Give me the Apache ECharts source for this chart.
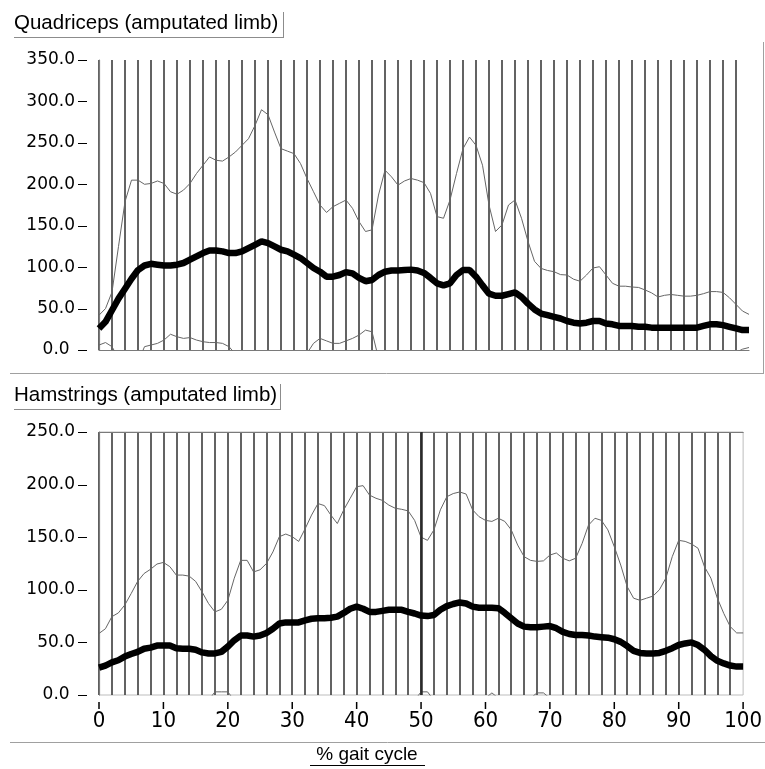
<!DOCTYPE html>
<html>
<head>
<meta charset="utf-8">
<script src="https://cdn.jsdelivr.net/npm/echarts@6/dist/echarts.min.js"></script>
<style>
html,body{margin:0;padding:0;background:#fff;}
#chart{width:765px;height:769px;}
</style>
</head>
<body>
<div id="chart"></div>
<script>
// ---- data ----
const gaitPct = [0,1,2,3,4,5,6,7,8,9,10,11,12,13,14,15,16,17,18,19,20,21,22,23,24,25,26,27,28,29,30,31,32,33,34,35,36,37,38,39,40,41,42,43,44,45,46,47,48,49,50,51,52,53,54,55,56,57,58,59,60,61,62,63,64,65,66,67,68,69,70,71,72,73,74,75,76,77,78,79,80,81,82,83,84,85,86,87,88,89,90,91,92,93,94,95,96,97,98,99,100];
const xTickLabels = [0,10,20,30,40,50,60,70,80,90,100];
const quadYTicks = [0,50,100,150,200,250,300,350];
const hamYTicks = [0,50,100,150,200,250];

const quadTitle = "Quadriceps (amputated limb)";
const hamTitle = "Hamstrings (amputated limb)";
const xTitle = "% gait cycle";

const quadMean = [26,34,48,62,74,86,96.5,102,104,103,
  102,102,103,105,109,113,117,120,120,119,
  117,117,119,123,127,131,129,125,121,119,
  115,111,105,99,94.5,88.5,88.5,90.5,94,92.5,
  87,83,84.5,90.5,94.5,96,96,96.5,97,96,
  93,87,80.5,78,80.5,90.5,96.5,96.5,88.5,78,
  68,65.5,65.5,67.5,69.5,64,56,49,44,42,
  40,38,35,33,32,33,35,35,32,31,
  29,29,29,28,28,27,27,27,27,27,
  27,27,27,29,31,31,30,28,26,24,24];
const quadUpper = [42,50,70,125,179,205,205,200,201,204,
  201,191,188,193,201,213,223,233,229,228,
  233,239,247,255,271,290,284,263,243,240,
  237,225,207,191,175,166,173,177,181,171,
  155,143,145,187,217,209,199,204,207,205,
  202,189,161,159,181,213,243,257,247,223,
  175,143,151,175,181,159,131,107,98.5,96,
  94.5,91,90.5,85.5,83,90.5,99,100.5,90.5,80.5,
  77,77,76,75.5,72.5,69,64,66,67,66,
  65,65,66,68,70.5,70.5,69.5,63,55,47,43];
const quadLower = [6,9,4,-10,-25,-30,-15,4,6,8,
  12,19,16,14,15,12,10,9,9,8,
  4,-5,-15,-25,-30,-35,-30,-20,-15,-12,
  -10,-8,-4,8,14,11,8,8,11,14,
  18,24,22,-10,-30,-20,-10,-12,-14,-15,
  -18,-15,-3,-5,-20,-30,-50,-60,-70,-65,
  -40,-10,-20,-40,-40,-30,-20,-10,-10,-12,
  -15,-15,-20,-20,-18,-25,-30,-30,-25,-20,
  -20,-20,-20,-20,-18,-15,-10,-12,-13,-12,
  -11,-11,-12,-10,-8,-8,-10,-7,-3,1,3];

const hamMean = [26,28,31,33,36.5,39,41,44,45,47,
  47,47,44.5,44,44,43,40.5,39.5,39.5,41,
  46,52,56.5,56.5,55.5,56.5,59,63,68,69,
  69,69,71,72.5,73,73,73.5,74.5,78,82,
  84,82,79,79,80,81,81,81,79,77.5,
  75.5,75,76,81,84.5,86.5,88,87,84,83,
  83,83,82.5,78,73,68,65,64.5,64.5,65,
  65.5,63.5,60,58,57,57,56.5,55.5,55,54.5,
  53,50.5,46.5,42,40,39.5,39.5,40,42,44.5,
  47.5,49,50,47.5,43,37,32.5,30,28,27,27];
const hamUpper = [58.5,63,74.5,78,85.5,96.5,108,115.5,119.5,124.5,
  126,122,114,114,113,108,98,87,79,81.5,
  90,111,128,128,117,119,125,136,150.5,153,
  150.5,146,158,171,182,180,171,163,176,187,
  198,199,190,187,185,180.5,177.5,176.5,175,166,
  150,147,157,176,188.5,191.5,193,191,176,169.5,
  166,165,168,165,157,142.5,131.5,128,127,127.5,
  133,135,130,127.5,130,144,161.5,168,166,157,
  141,123.5,103,92,90,92,94,100,111,131.5,
  147,146,143.5,139.5,122,111,92,77.5,65,59,59];
const hamLower = [-20,-15,-25,-30,-35,-40,-45,-50,-45,-40,
  -35,-30,-25,-20,-15,-10,-8,-5,3,3,
  3,-5,-10,-15,-10,-8,-10,-12,-15,-12,
  -12,-10,-15,-20,-25,-30,-25,-20,-20,-22,
  -30,-35,-30,-25,-22,-20,-18,-15,-10,-5,
  3,3,-5,-15,-20,-20,-17,-17,-8,-5,
  -3,2,-3,-8,-10,-8,-5,-3,2,2,
  -3,-8,-12,-15,-15,-20,-30,-35,-30,-25,
  -25,-25,-20,-15,-12,-12,-15,-20,-25,-30,
  -35,-35,-30,-25,-20,-15,-10,-8,-6,-5,-5];
const hamMarkerPct = [50];

// ---- chart ----
const pairs = arr => gaitPct.map((x, i) => [x, arr[i]]);
const labelFont = "'DejaVu Sans', sans-serif";
const textFont = "'Liberation Sans', Arial, sans-serif";
const xLabelFont = "'DejaVu Sans Condensed', 'DejaVu Sans', sans-serif";
const GRID_COLOR = '#3c3c3c';
const GRID_LEFT = 99;

function splitX(gi) {
  return {gridIndex: gi, type: 'value', min: 0, max: 100, interval: 2,
    axisLine: {show: false}, axisTick: {show: false}, axisLabel: {show: false},
    splitLine: {show: true, showMinLine: true, showMaxLine: false,
      lineStyle: {color: GRID_COLOR, width: 1.6}}};
}
function borderX(gi) {
  return {gridIndex: gi, type: 'value', min: 0, max: 100, position: 'top',
    axisLine: {show: true, lineStyle: {color: '#7a7a7a', width: 1.2}},
    axisTick: {show: false}, axisLabel: {show: false}, splitLine: {show: false}};
}
function labelY(gi, max) {
  return {gridIndex: gi, type: 'value', min: 0, max: max, interval: 50, position: 'left', offset: 12,
    axisLine: {show: false},
    axisTick: {show: false},
    axisLabel: {margin: 12, color: '#000', fontFamily: labelFont, fontSize: 17,
      formatter: v => v === 0 ? v.toFixed(1) + ' ' : v.toFixed(1)},
    splitLine: {show: false}};
}
function borderY(gi, max) {
  return {gridIndex: gi, type: 'value', min: 0, max: max, position: 'left', offset: 0,
    axisLine: {show: true, lineStyle: {color: '#7a7a7a', width: 1.2}},
    axisTick: {show: false}, axisLabel: {show: false}, splitLine: {show: false}};
}
function meanSeries(xi, yi, data, extra) {
  return Object.assign({type: 'line', xAxisIndex: xi, yAxisIndex: yi, data: pairs(data),
    showSymbol: false, symbol: 'none', z: 5, clip: true,
    lineStyle: {color: '#000', width: 6.5}}, extra || {});
}
function sdSeries(xi, yi, data) {
  return {type: 'line', xAxisIndex: xi, yAxisIndex: yi, data: pairs(data),
    showSymbol: false, symbol: 'none', z: 4, clip: true,
    lineStyle: {color: '#666666', width: 1}};
}

const staticGraphics = [
  {type: 'text', left: 14, top: 13, style: {text: quadTitle, fill: '#000', font: '20.5px ' + textFont}},
  {type: 'line', shape: {x1: 14, y1: 37.5, x2: 283, y2: 37.5}, style: {stroke: '#8c8c8c', lineWidth: 1}},
  {type: 'line', shape: {x1: 283.5, y1: 12, x2: 283.5, y2: 38}, style: {stroke: '#8c8c8c', lineWidth: 1}},
  {type: 'line', shape: {x1: 10, y1: 373.5, x2: 763, y2: 373.5}, style: {stroke: '#a0a0a0', lineWidth: 1}},
  {type: 'line', shape: {x1: 763.5, y1: 42, x2: 763.5, y2: 374}, style: {stroke: '#a0a0a0', lineWidth: 1}},
  {type: 'text', left: 14, top: 385, style: {text: hamTitle, fill: '#000', font: '20.5px ' + textFont}},
  {type: 'line', shape: {x1: 14, y1: 409.5, x2: 280, y2: 409.5}, style: {stroke: '#8c8c8c', lineWidth: 1}},
  {type: 'line', shape: {x1: 280.5, y1: 384, x2: 280.5, y2: 410}, style: {stroke: '#8c8c8c', lineWidth: 1}},
  {type: 'line', shape: {x1: 10, y1: 742.5, x2: 765, y2: 742.5}, style: {stroke: '#a0a0a0', lineWidth: 1}},
  {type: 'text', x: 367, y: 755, style: {text: xTitle, fill: '#000', font: '19px ' + textFont, align: 'center', verticalAlign: 'middle'}},
  {type: 'line', shape: {x1: 310, y1: 765.5, x2: 425, y2: 765.5}, style: {stroke: '#000', lineWidth: 1}}
];

const chart = echarts.init(document.getElementById('chart'), null, {renderer: 'canvas'});
chart.setOption({
  animation: false,
  backgroundColor: '#ffffff',
  grid: [
    {left: GRID_LEFT, top: 60, width: 650, height: 290, show: false},
    {left: GRID_LEFT, top: 432, width: 650, height: 263, show: true, borderColor: '#bdbdbd', borderWidth: 1, backgroundColor: 'transparent'}
  ],
  xAxis: [
    splitX(0),
    borderX(0),
    splitX(1),
    {gridIndex: 1, type: 'value', min: 0, max: 100, interval: 10, position: 'bottom', offset: 7,
      axisLine: {show: false},
      axisTick: {show: false},
      axisLabel: {margin: 0, color: '#000', fontFamily: xLabelFont, fontSize: 22,
        formatter: v => xTickLabels.indexOf(v) >= 0 ? '{t| }\n{n|' + v + '}' : '',
        rich: {
          t: {width: 1.5, height: 7, lineHeight: 7, fontSize: 1, backgroundColor: '#000', padding: 0},
          n: {fontSize: 22, lineHeight: 25, fontFamily: xLabelFont, color: '#000'}
        }},
      splitLine: {show: false}},
    borderX(1)
  ],
  yAxis: [
    labelY(0, 350),
    borderY(0, 350),
    labelY(1, 250),
    borderY(1, 250)
  ],
  series: [
    sdSeries(0, 0, quadLower),
    sdSeries(0, 0, quadUpper),
    meanSeries(0, 0, quadMean),
    sdSeries(2, 2, hamLower),
    sdSeries(2, 2, hamUpper),
    meanSeries(2, 2, hamMean, {
      markLine: {silent: true, symbol: 'none', label: {show: false},
        lineStyle: {color: '#2a2a2a', width: 2.5, type: 'solid'},
        data: hamMarkerPct.map(v => ({xAxis: v}))}
    })
  ],
  graphic: staticGraphics
});

// Y-axis tick marks, positioned through the axes' own scales
const tickGraphics = [];
quadYTicks.forEach(v => {
  const p = chart.convertToPixel({xAxisIndex: 0, yAxisIndex: 0}, [0, v]);
  const y = Math.round(p[1]) + 0.5;
  tickGraphics.push({type: 'line', shape: {x1: p[0] - 21, y1: y, x2: p[0] - 12, y2: y}, style: {stroke: '#000', lineWidth: 1}});
});
hamYTicks.forEach(v => {
  const p = chart.convertToPixel({xAxisIndex: 2, yAxisIndex: 2}, [0, v]);
  const y = Math.round(p[1]) + 0.5;
  tickGraphics.push({type: 'line', shape: {x1: p[0] - 21, y1: y, x2: p[0] - 12, y2: y}, style: {stroke: '#000', lineWidth: 1}});
});
chart.setOption({graphic: staticGraphics.concat(tickGraphics)});
</script>
</body>
</html>
